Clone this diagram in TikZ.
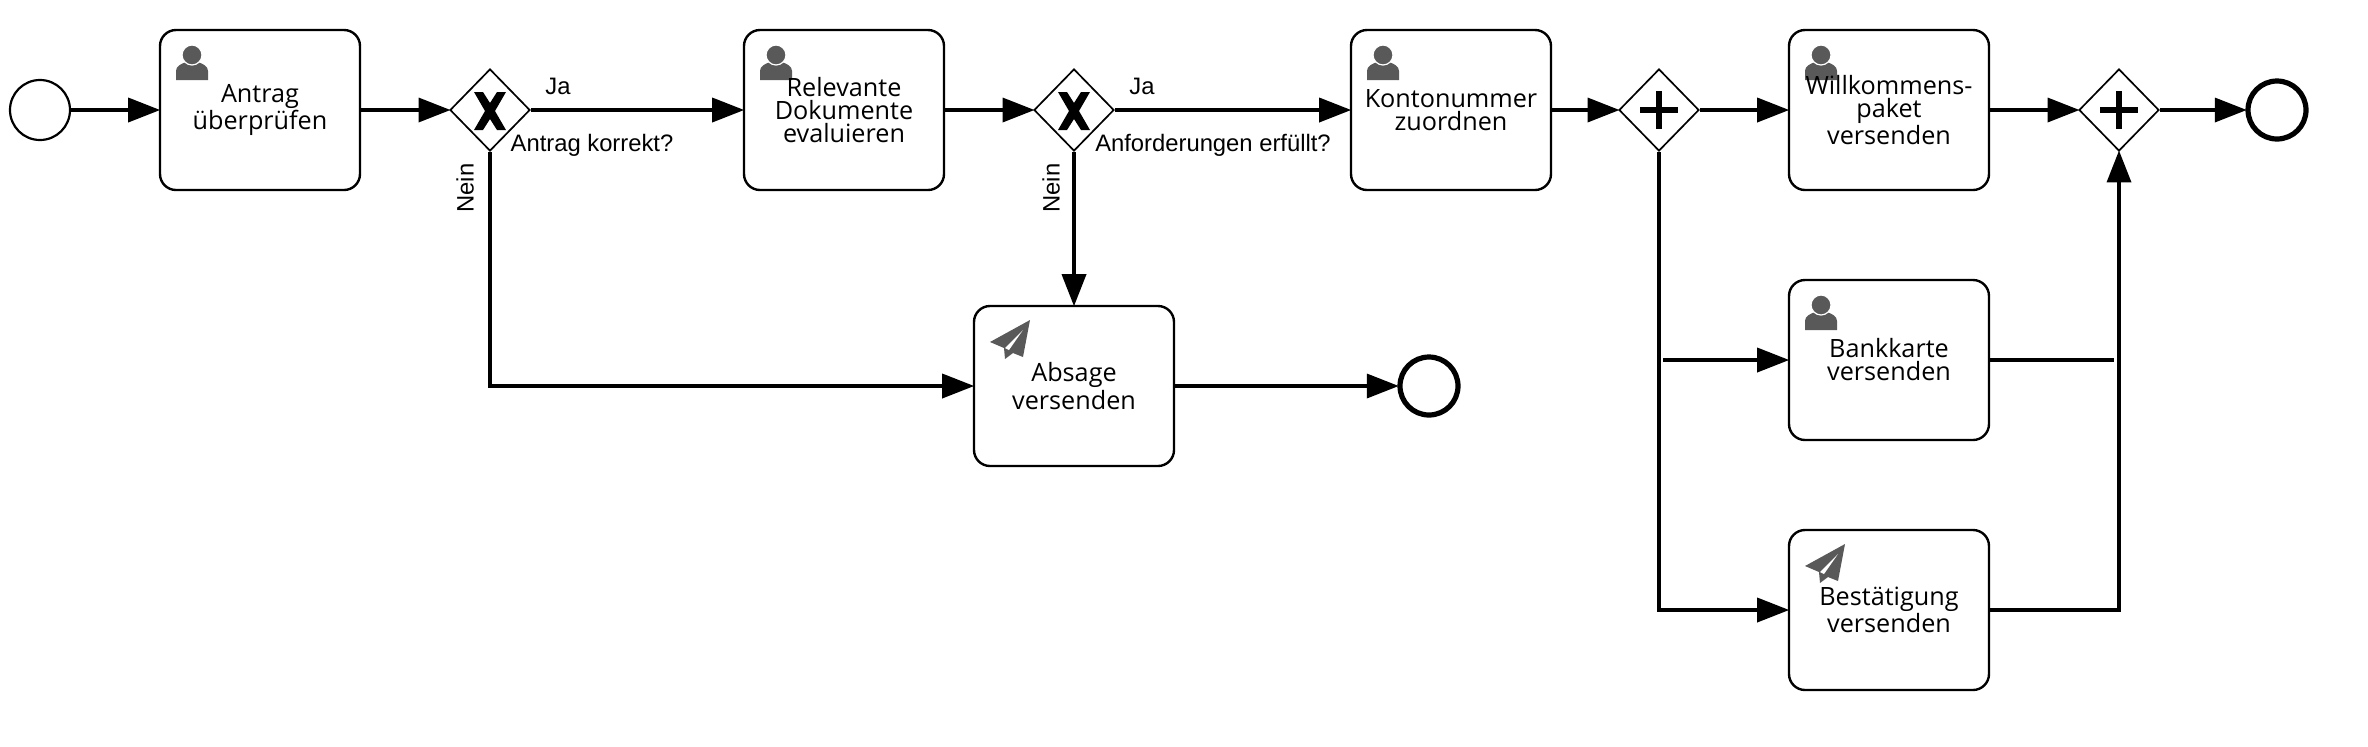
\documentclass[tikz,border=0pt]{standalone}
\usepackage{fontspec}
\setmainfont{Liberation Sans}
\newfontfamily\taskfont{Open Sans}
\usetikzlibrary{arrows.meta,shapes.geometric}
\definecolor{iconcol}{HTML}{595959}

\def\usermark{% person, drawn from the upper left corner of the task
  \fill[iconcol] (16,50) -- (16,41) .. controls (16,36) and (21,34) .. (26,32)
    -- (38,32) .. controls (43,34) and (48,36) .. (48,41) -- (48,50) -- cycle;
  \filldraw[iconcol,draw=white,line width=.6pt] (32,25) ellipse (10 and 10);
}
\def\planemark{% paper plane
  \fill[iconcol] (56,14) -- (16,36) -- (30,42) -- (31,53) -- (39,47) -- (49,51) -- cycle;
  \fill[white] (49,24) -- (31,42) -- (35,44) -- cycle;
}

\tikzset{
  task/.style={draw,line width=1.2pt,rounded corners=8pt,minimum width=100pt,
    minimum height=80pt,inner sep=0pt,align=center,
    font=\taskfont\fontsize{12.6}{11.5}\selectfont},
  gate/.style={draw,diamond,shape aspect=1,line width=.85pt,inner sep=0pt,
    minimum width=40pt,minimum height=41pt},
  xorgate/.style={gate,path picture={
    \fill[shift={(path picture bounding box.center)}] (-16,-18) -- (-7,-18) -- (0,-7) -- (7,-18)
      -- (16,-18) -- (5,1) -- (16,20) -- (7,20) -- (0,9) -- (-7,20) -- (-16,20) -- (-5,1) -- cycle;}},
  andgate/.style={gate,path picture={
    \draw[line width=3pt,shift={(path picture bounding box.center)}]
      (-19,0) -- (19,0) (0,-19) -- (0,19);}},
  startevent/.style={draw,circle,line width=1.1pt,minimum size=30pt,inner sep=0pt},
  endevent/.style={draw,circle,line width=2.6pt,minimum size=29pt,inner sep=0pt},
  flow/.style={line width=1.8pt,shorten >=-.7pt,-{Triangle[length=16pt,width=12pt]}},
  plainflow/.style={line width=1.8pt},
  gatelabel/.style={font=\fontsize{11.9}{12}\selectfont,inner sep=0pt}
}

\begin{document}
\begin{tikzpicture}[x=.5pt,y=-.5pt]
  \useasboundingbox (0,0) rectangle (2368,746);

  % task marks go first, the task texts stand on top of them
  \foreach \px/\py in {160/30,744/30,1351/30,1789/30,1789/280} {
      \begin{scope}[shift={(\px,\py)}]\usermark\end{scope}
    };
  \foreach \px/\py in {1789/530,974/306} {
      \begin{scope}[shift={(\px,\py)}]\planemark\end{scope}
    };

  % tasks
  \node[task] (check) at (260,110) {Antrag\\überprüfen};
  \node[task] (docs) at (844,110) {Relevante\\Dokumente\\evaluieren};
  \node[task] (account) at (1451,110) {Kontonummer\\zuordnen};
  \node[task] (welcome) at (1889,110) {Willkommens-\\paket\\versenden};
  \node[task] (card) at (1889,360) {Bankkarte\\versenden};
  \node[task] (confirm) at (1889,610) {Bestätigung\\versenden};
  \node[task] (reject) at (1074,386) {Absage\\versenden};

  % gateways and events
  \node[startevent] (start) at (40,110) {};
  \node[xorgate] (gwcheck) at (490,110) {};
  \node[xorgate] (gwdocs) at (1074,110) {};
  \node[andgate] (split) at (1659,110) {};
  \node[andgate] (join) at (2119,110) {};
  \node[endevent] (endreject) at (1429,386) {};
  \node[endevent] (endok) at (2277,110) {};

  % free ends of the card branch
  \coordinate (splitcard) at (1663,360);
  \coordinate (joincard) at (2114,360);

  % flows
  \foreach \src/\dst in {
      start/check,check/gwcheck,gwcheck/docs,docs/gwdocs,gwdocs/account,
      account/split,split/welcome,welcome/join,join/endok,
      gwdocs/reject,reject/endreject,splitcard/card} {
      \draw[flow] (\src) -- (\dst);
    };
  \draw[plainflow] (card) -- (joincard);
  \draw[flow] (gwcheck) |- (reject);
  \draw[flow] (split) |- (confirm);
  \draw[flow] (confirm) -| (join);

  % labels
  \node[gatelabel] (yescheck) at (558,86) {Ja};
  \node[gatelabel] (askcheck) at (592,145) {Antrag korrekt?};
  \node[gatelabel,rotate=90] (nocheck) at (465,188) {Nein};
  \node[gatelabel] (yesdocs) at (1142,86) {Ja};
  \node[gatelabel] (askdocs) at (1213,145) {Anforderungen erfüllt?};
  \node[gatelabel,rotate=90] (nodocs) at (1051,188) {Nein};
\end{tikzpicture}
\end{document}
